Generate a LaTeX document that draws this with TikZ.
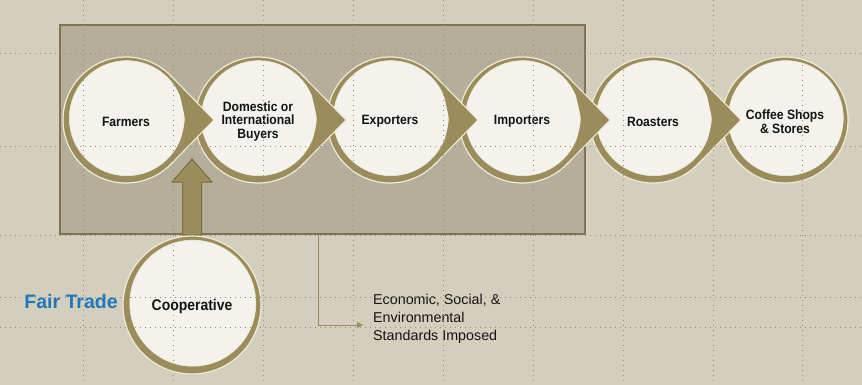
\documentclass[tikz,border=0pt]{standalone}
\usepackage{fontspec}
\setmainfont{Liberation Sans}
\newfontfamily\labelfont{Liberation Sans}[FakeStretch=0.9]
\usetikzlibrary{arrows.meta,calc}

\definecolor{paper}{HTML}{D4CFBC}
\definecolor{panel}{HTML}{B4AE9A}
\definecolor{paneledge}{HTML}{7C7452}
\definecolor{olive}{HTML}{9B8C5B}
\definecolor{olivedark}{HTML}{7A6D44}
\definecolor{cream}{HTML}{F4F2EC}
\definecolor{creamline}{HTML}{F0EBD8}
\definecolor{guide}{HTML}{918C7B}
\definecolor{ftblue}{HTML}{1F78BE}
\definecolor{ink}{HTML}{141414}

% olive ring with its cream disc, slightly off centre for depth
\newcommand\stagering[3]{%
  \fill[olive, draw=creamline, line width=1.2] (#1) circle[radius=#2];
  \fill[cream, draw=creamline, line width=0.6] ([xshift=0.8,yshift=1.8]#1) circle[radius=#3];}
% pointed tip on the right of a stage ring, leading to the next stage
\newcommand\stagetip[1]{%
  \fill[olive] ($(#1)+(44.3:63)$) -- ($(#1)+(88,0)$) -- ($(#1)+(-44.3:63)$)
     -- ($(#1)+(-25:59.5)$) -- ($(#1)+(0:59.5)$) -- ($(#1)+(25:59.5)$) -- cycle;
  \draw[creamline, line width=1.1, line join=round]
     ($(#1)+(44.3:63)$) -- ($(#1)+(88,0)$) -- ($(#1)+(-44.3:63)$);}

\tikzset{
  panelbox/.style={draw=paneledge, line width=2, fill=panel, inner sep=0},
  stage/.style={circle, minimum size=115, inner sep=0, yshift=-1.5, align=center,
    text=ink, font=\labelfont\bfseries\fontsize{13.5}{13.8}\selectfont},
  bigstage/.style={stage, minimum size=126, yshift=0,
    font=\labelfont\bfseries\fontsize{15.5}{16}\selectfont},
  guideline/.style={guide, line width=0.7, dash pattern=on 1.2pt off 3.8pt},
  blockarrow/.style={fill=olive, draw=olivedark, line width=1, line join=miter},
  link/.style={draw=olive, line width=1, -{Triangle[length=6,width=6]}},
  note/.style={anchor=west, align=left, inner sep=0, text=ink,
    font=\fontsize{14.3}{18}\selectfont},
  brand/.style={inner sep=0, text=ftblue,
    font=\bfseries\fontsize{19.5}{22}\selectfont},
}

\begin{document}
\begin{tikzpicture}[x=1pt,y=1pt]
\useasboundingbox (0,0) rectangle (862,-385);
\fill[paper] (0,0) rectangle (862,-385);

% shaded panel around the first four stages
\node[panelbox, minimum width=525, minimum height=209] (fairbox) at (322.5,-129.5) {};

% stage centres
\coordinate (c1) at (126,-120);
\coordinate (c2) at (258,-120);
\coordinate (c3) at (390,-120);
\coordinate (c4) at (522,-120);
\coordinate (c5) at (653,-120);
\coordinate (c6) at (785,-120);
\coordinate (c7) at (192,-305);
\coordinate (uptip) at (192,-159);
\coordinate (upbase) at (fairbox.south -| uptip);

% block arrow from the cooperative up into the chain
\draw[blockarrow] ([xshift=-9.5]upbase) -- ([xshift=-9.5,yshift=-23]uptip)
  -- ([xshift=-20,yshift=-23]uptip) -- (uptip) -- ([xshift=20,yshift=-23]uptip)
  -- ([xshift=9.5,yshift=-23]uptip) -- ([xshift=9.5]upbase) -- cycle;

% rings and discs
\foreach \c in {c1,c2,c3,c4,c5,c6} {\stagering{\c}{63}{57.5}}
\stagering{c7}{69}{63}

% stage labels
\node[stage] (farmers) at (c1) {Farmers};
\node[stage] (buyers) at (c2) {Domestic or\\International\\Buyers};
\node[stage] (exporters) at (c3) {Exporters};
\node[stage] (importers) at (c4) {Importers};
\node[stage] (roasters) at (c5) {Roasters};
\node[stage] (shops) at (c6) {Coffee Shops\\\& Stores};
\node[bigstage] (coop) at (c7) {Cooperative};

% tips pointing from each stage to the next
\foreach \c in {c1,c2,c3,c4,c5} {\stagetip{\c}}

% labels outside the chain
\node[brand] (fairtrade) at (71,-302) {Fair Trade};
\node[note] (standards) at (373,-319) {Economic, Social, \&\\Environmental\\Standards Imposed};

\draw[link] ([xshift=-4.5]fairbox.south) |- ([xshift=-10,yshift=-6]standards.west);

% layout guides
\foreach \gx in {83,173,263,353,443,533,623,713,802}
  \draw[guideline] (\gx,0) -- (\gx,-385);
\foreach \gy in {53,146,235,297,327}
  \draw[guideline] (0,-\gy) -- (862,-\gy);
\end{tikzpicture}
\end{document}
